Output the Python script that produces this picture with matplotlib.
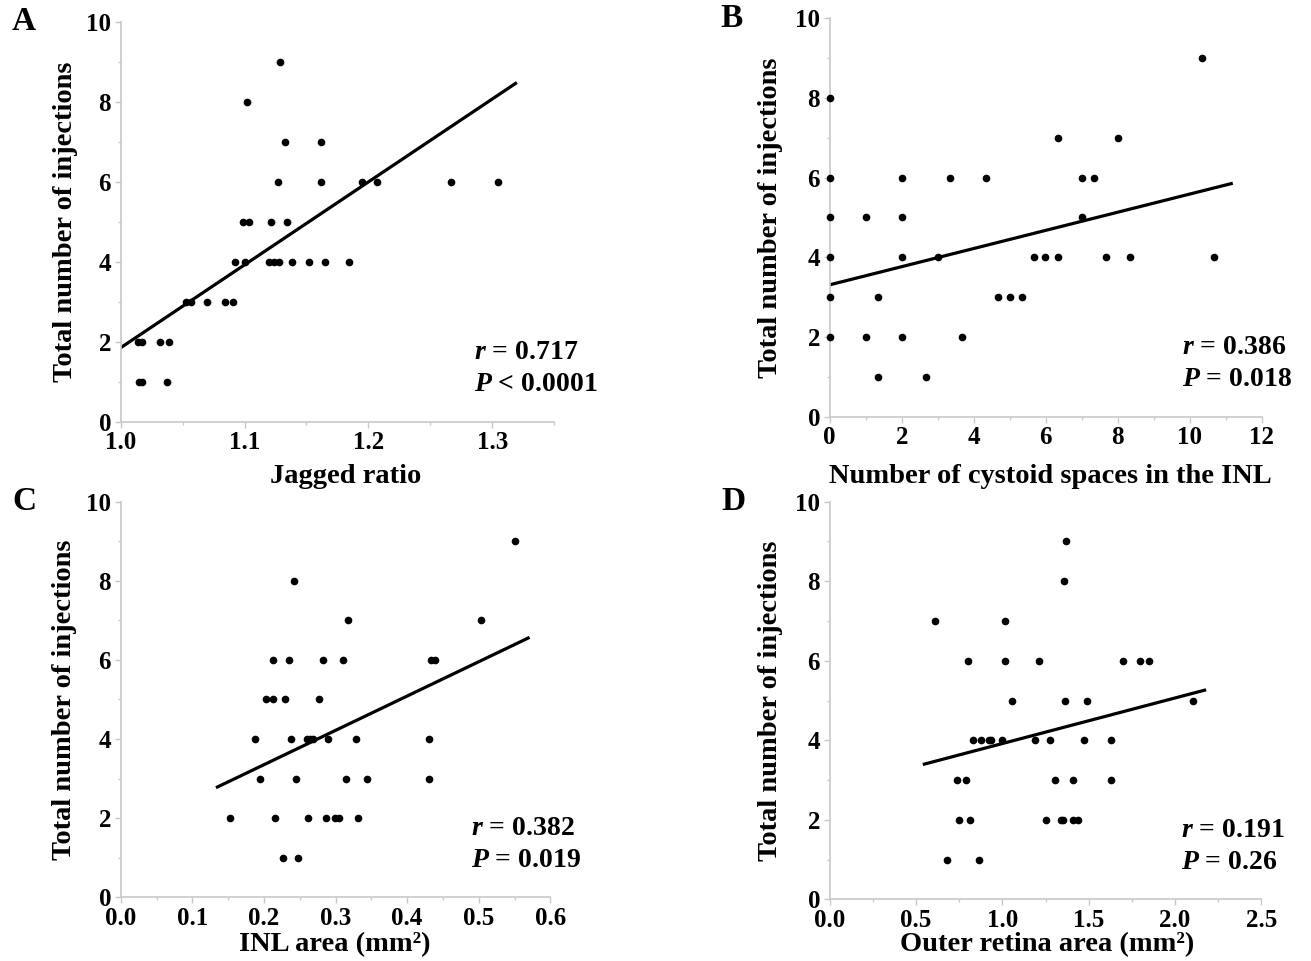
import matplotlib
matplotlib.use("Agg")
import matplotlib.pyplot as plt
from matplotlib.ticker import MultipleLocator

plt.rcParams["font.family"] = ["Liberation Serif", "DejaVu Serif"]
plt.rcParams["font.weight"] = "bold"
plt.rcParams["mathtext.fontset"] = "custom"
plt.rcParams["mathtext.it"] = "Liberation Serif:italic:bold"
plt.rcParams["mathtext.rm"] = "Liberation Serif:bold"

# A: jagged ratio vs injections
jag_x = [1.129, 1.102, 1.133, 1.162,
         1.127, 1.162, 1.195, 1.207, 1.267, 1.305,
         1.099, 1.104, 1.121, 1.134,
         1.092, 1.100, 1.120, 1.124, 1.128, 1.138, 1.152, 1.165, 1.184,
         1.053, 1.057, 1.070, 1.084, 1.091,
         1.014, 1.017, 1.032, 1.039,
         1.015, 1.017, 1.037]
jag_y = [9, 8, 7, 7,
         6, 6, 6, 6, 6, 6,
         5, 5, 5, 5,
         4, 4, 4, 4, 4, 4, 4, 4, 4,
         3, 3, 3, 3, 3,
         2, 2, 2, 2,
         1, 1, 1]
jag_fit_x = [1.0, 1.32]
jag_fit_y = [1.85, 8.48]

# B: cystoid spaces vs injections
cys_x = [10.33, 0.0, 6.33, 7.99,
         0.0, 2.0, 3.33, 4.33, 6.99, 7.33,
         0.0, 1.0, 2.0, 7.0,
         0.0, 2.0, 3.0, 5.66, 5.99, 6.33, 7.66, 8.33, 10.67,
         0.0, 1.33, 4.66, 5.0, 5.33,
         0.0, 1.0, 2.0, 3.66,
         1.33, 2.66]
cys_y = [9, 8, 7, 7,
         6, 6, 6, 6, 6, 6,
         5, 5, 5, 5,
         4, 4, 4, 4, 4, 4, 4, 4, 4,
         3, 3, 3, 3, 3,
         2, 2, 2, 2,
         1, 1]
cys_fit_x = [0.0, 11.19]
cys_fit_y = [3.31, 5.86]

# C: INL area vs injections
inl_x = [0.551, 0.242, 0.318, 0.503,
         0.213, 0.235, 0.283, 0.311, 0.434, 0.439,
         0.203, 0.212, 0.229, 0.277,
         0.187, 0.238, 0.260, 0.264, 0.268, 0.289, 0.329, 0.430,
         0.195, 0.245, 0.314, 0.344, 0.430,
         0.152, 0.216, 0.261, 0.287, 0.299, 0.305, 0.332,
         0.226, 0.247]
inl_y = [9, 8, 7, 7,
         6, 6, 6, 6, 6, 6,
         5, 5, 5, 5,
         4, 4, 4, 4, 4, 4, 4, 4,
         3, 3, 3, 3, 3,
         2, 2, 2, 2, 2, 2, 2,
         1, 1]
inl_fit_x = [0.133, 0.571]
inl_fit_y = [2.77, 6.57]

# D: outer retina area vs injections
orl_x = [1.371, 1.355, 0.610, 1.014,
         0.801, 1.014, 1.212, 1.701, 1.797, 1.849,
         1.054, 1.361, 1.492, 2.106,
         0.828, 0.878, 0.923, 0.934, 1.000, 1.187, 1.274, 1.473, 1.627,
         0.739, 0.792, 1.307, 1.407, 1.631,
         0.749, 0.815, 1.253, 1.338, 1.353, 1.411, 1.438,
         0.680, 0.865]
orl_y = [9, 8, 7, 7,
         6, 6, 6, 6, 6, 6,
         5, 5, 5, 5,
         4, 4, 4, 4, 4, 4, 4, 4, 4,
         3, 3, 3, 3, 3,
         2, 2, 2, 2, 2, 2, 2,
         1, 1]
orl_fit_x = [0.539, 2.180]
orl_fit_y = [3.39, 5.27]

panels = [
    dict(letter="A", x=jag_x, y=jag_y, fx=jag_fit_x, fy=jag_fit_y,
         xlim=(1.0, 1.35), major=0.1, minor=0.05, fmt="{:.1f}",
         xlabel="Jagged ratio", stats=("0.717", "< 0.0001"),
         rect=[0.0921, 0.5612, 0.3305, 0.4162], ylab_x=-0.128, xlab=(0.518, -0.136)),
    dict(letter="B", x=cys_x, y=cys_y, fx=cys_fit_x, fy=cys_fit_y,
         xlim=(0, 12), major=2, minor=1, fmt="{:.0f}",
         xlabel="Number of cystoid spaces in the INL", stats=("0.386", "= 0.018"),
         rect=[0.6329, 0.5664, 0.3297, 0.4146], ylab_x=-0.138, xlab=(0.51, -0.149)),
    dict(letter="C", x=inl_x, y=inl_y, fx=inl_fit_x, fy=inl_fit_y,
         xlim=(0, 0.6), major=0.1, minor=0.05, fmt="{:.1f}",
         xlabel="INL area (mm²)", stats=("0.382", "= 0.019"),
         rect=[0.0921, 0.0663, 0.3277, 0.4117], ylab_x=-0.130, xlab=(0.499, -0.12)),
    dict(letter="D", x=orl_x, y=orl_y, fx=orl_fit_x, fy=orl_fit_y,
         xlim=(0, 2.5), major=0.5, minor=0.25, fmt="{:.1f}",
         xlabel="Outer retina area (mm²)", stats=("0.191", "= 0.26"),
         rect=[0.6329, 0.0642, 0.3292, 0.4137], ylab_x=-0.138, xlab=(0.503, -0.115)),
]

fig = plt.figure(figsize=(13.11, 9.61), dpi=100)
grey = "#c8c8c8"

for p in panels:
    ax = fig.add_axes(p["rect"])
    ax.plot(p["x"], p["y"], "o", color="black", ms=4.5, clip_on=False, zorder=3)
    ax.plot(p["fx"], p["fy"], color="black", lw=2.3, solid_capstyle="butt", zorder=2)
    ax.set_xlim(*p["xlim"])
    ax.set_ylim(0, 10)
    ax.xaxis.set_major_locator(MultipleLocator(p["major"]))
    ax.xaxis.set_minor_locator(MultipleLocator(p["minor"]))
    ax.yaxis.set_major_locator(MultipleLocator(2))
    ax.yaxis.set_minor_locator(MultipleLocator(1))
    ax.xaxis.set_major_formatter(matplotlib.ticker.FuncFormatter(lambda v, _, f=p["fmt"]: f.format(v)))
    for s in ("top", "right"):
        ax.spines[s].set_visible(False)
    for s in ("left", "bottom"):
        ax.spines[s].set_color(grey)
        ax.spines[s].set_linewidth(1.2)
    ax.tick_params(which="both", direction="out", color=grey, width=1)
    ax.tick_params(which="major", length=4, labelsize=18, pad=3)
    ax.tick_params(which="minor", length=2.5)
    ax.set_ylabel("Total number of injections", fontsize=20.5, fontweight="bold")
    ax.yaxis.set_label_coords(p["ylab_x"], 0.5)
    ax.yaxis.label.set_va("center")
    ax.set_xlabel(p["xlabel"], fontsize=20.5, fontweight="bold")
    ax.xaxis.set_label_coords(*p["xlab"])
    ax.xaxis.label.set_va("center")
    ax.text(0.815, 0.174, "$r$ = " + p["stats"][0], transform=ax.transAxes,
            fontsize=20, fontweight="bold", va="center", ha="left")
    ax.text(0.815, 0.093, "$P$ " + p["stats"][1], transform=ax.transAxes,
            fontsize=20, fontweight="bold", va="center", ha="left")
    ax.text(-0.252, 1.0, p["letter"], transform=ax.transAxes,
            fontsize=24, fontweight="bold", va="center", ha="left")

fig.savefig("out.png", dpi=100)
